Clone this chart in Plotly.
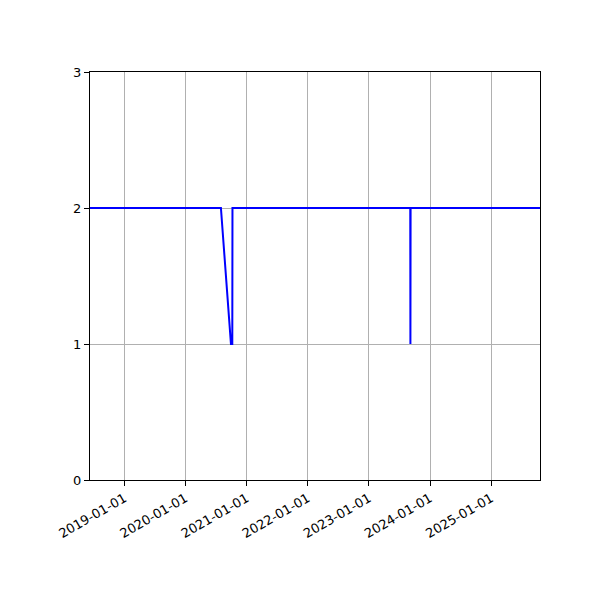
import plotly.graph_objects as go

# data
dates = ["2018-06-10", "2020-07-31", "2020-09-29", "2020-10-07", "2020-10-08",
         "2023-09-05", "2023-09-06", "2023-09-07", "2025-10-19"]
values = [2, 2, 1, 1, 2, 2, 1, 2, 2]

tick_dates = ["2019-01-01", "2020-01-01", "2021-01-01", "2022-01-01",
              "2023-01-01", "2024-01-01", "2025-01-01"]
y_ticks = [0, 1, 2, 3]

fig = go.Figure()
fig.add_trace(go.Scatter(
    x=dates, y=values, mode="lines",
    line=dict(color="#0000ff", width=2),
    showlegend=False,
))

axis_style = dict(
    showline=True, linecolor="black", linewidth=1, mirror=True,
    ticks="outside", ticklen=5, tickcolor="black",
    showgrid=True, gridcolor="#b0b0b0", gridwidth=1,
    zeroline=False,
)

fig.update_xaxes(
    range=[dates[0], dates[-1]],
    tickvals=tick_dates, ticktext=tick_dates, tickangle=-30,
    **axis_style
)
fig.update_yaxes(range=[0, 3], tickvals=y_ticks, **axis_style)

# page has an 8px body margin, so shift the plot area back
fig.update_layout(
    width=600, height=600,
    margin=dict(l=82, r=68, t=64, b=128),
    paper_bgcolor="white", plot_bgcolor="white",
    font=dict(family="DejaVu Sans", size=13, color="black"),
)

fig.write_html("out.html")
